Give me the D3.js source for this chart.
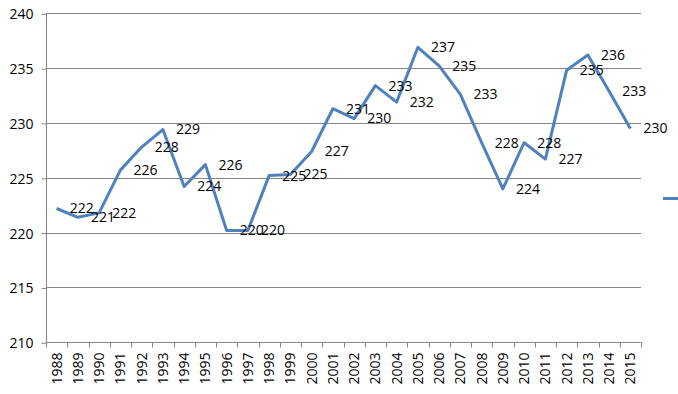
<!DOCTYPE html>
<html>
<head>
<meta charset="utf-8">
<script src="https://cdn.jsdelivr.net/npm/d3@7"></script>
<style>
  body { margin: 0; background: #fff; }
  svg text { font-family: "Open Sans", sans-serif; font-size: 14px; fill: #000; }
</style>
</head>
<body>
<svg width="678" height="394"></svg>
<script>
// Data
const years = ["1988","1989","1990","1991","1992","1993","1994","1995","1996","1997",
  "1998","1999","2000","2001","2002","2003","2004","2005","2006","2007",
  "2008","2009","2010","2011","2012","2013","2014","2015"];
const values = [222.2, 221.4, 221.8, 225.7, 227.8, 229.4, 224.2, 226.2, 220.2, 220.2,
  225.2, 225.3, 227.4, 231.3, 230.4, 233.4, 231.9, 236.9, 235.2, 232.6,
  228.2, 224.0, 228.2, 226.7, 234.8, 236.2, 232.9, 229.5];
const yTicks = [210, 215, 220, 225, 230, 235, 240];

const LINECOLOR = "#4F81BD";
const GRIDCOLOR = "#868686";

const svg = d3.select("svg");
const plotLeft = 46, plotRight = 641, plotTop = 13.3, plotBottom = 342.3;

const x = d3.scaleBand().domain(years).range([plotLeft, plotRight]);
const y = d3.scaleLinear().domain([210, 240]).range([plotBottom, plotTop]);

// Gridlines
svg.append("g")
  .selectAll("line")
  .data(yTicks.slice(1))
  .enter().append("line")
  .attr("x1", plotLeft).attr("x2", plotRight)
  .attr("y1", d => Math.round(y(d)) + 0.5)
  .attr("y2", d => Math.round(y(d)) + 0.5)
  .attr("stroke", GRIDCOLOR)
  .attr("stroke-width", 1);

// Y axis
let yAxis = svg.append("g")
  .attr("transform", "translate(" + (plotLeft + 0.5) + ",0.5)")
  .call(d3.axisLeft(y).tickValues(yTicks).tickSize(5).tickPadding(8));
yAxis.selectAll("path, line").attr("stroke", GRIDCOLOR);
yAxis.select(".domain").attr("d", "M0," + Math.round(plotBottom) + "V" + Math.round(plotTop));
yAxis.selectAll("text").attr("dy", "0.35em").style("font-size", "14px");

// X axis: ticks at category boundaries
let xAxis = svg.append("g")
  .attr("transform", "translate(0," + (Math.round(plotBottom) + 0.5) + ")");
xAxis.append("line")
  .attr("x1", plotLeft).attr("x2", plotRight)
  .attr("stroke", GRIDCOLOR);
xAxis.selectAll(".tick")
  .data(years.concat(["end"]))
  .enter().append("line")
  .attr("x1", (d, i) => Math.round(plotLeft + i * x.step()) + 0.5)
  .attr("x2", (d, i) => Math.round(plotLeft + i * x.step()) + 0.5)
  .attr("y1", 0).attr("y2", 5)
  .attr("stroke", GRIDCOLOR);
xAxis.selectAll("text")
  .data(years)
  .enter().append("text")
  .attr("transform", d => "translate(" + (x(d) + x.bandwidth() / 2) + ",10) rotate(-90)")
  .attr("text-anchor", "end")
  .attr("dy", "0.35em")
  .text(d => d);

// Line
const pts = years.map((d, i) => ({ year: d, value: values[i] }));
const line = d3.line()
  .x(d => x(d.year) + x.bandwidth() / 2)
  .y(d => y(d.value));

svg.append("path")
  .datum(pts)
  .attr("fill", "none")
  .attr("stroke", LINECOLOR)
  .attr("stroke-width", 3)
  .attr("stroke-linejoin", "round")
  .attr("d", line);

// Data labels, right of each point
svg.append("g")
  .selectAll("text")
  .data(pts)
  .enter().append("text")
  .attr("x", d => x(d.year) + x.bandwidth() / 2 + 13)
  .attr("y", d => y(d.value))
  .attr("dy", "0.35em")
  .text(d => Math.round(d.value));

// Legend marker (cut off at the right edge)
svg.append("line")
  .attr("x1", 663).attr("x2", 680)
  .attr("y1", 198.5).attr("y2", 198.5)
  .attr("stroke", LINECOLOR)
  .attr("stroke-width", 3);
</script>
</body>
</html>
